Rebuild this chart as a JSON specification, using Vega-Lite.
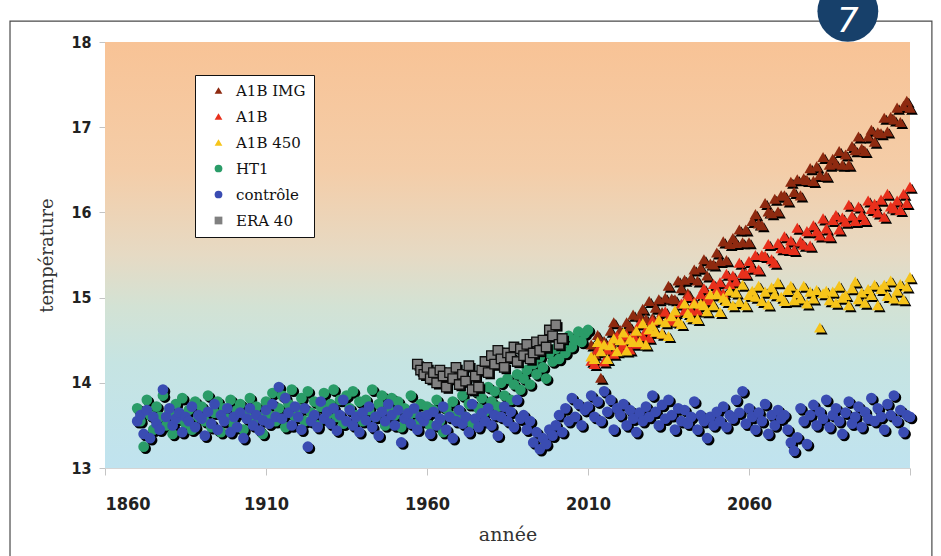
{
"$schema":"https://vega.github.io/schema/vega-lite/v6.json",
"width":805,"height":426,"autosize":{"type":"none"},
"padding":{"left":105,"top":42,"right":31,"bottom":88},
"background":"white",
"datasets":{"pts":[
{"series":"A1B IMG","year":2011,"temp":14.45},{"series":"A1B IMG","year":2012,"temp":14.34},{"series":"A1B IMG","year":2013,"temp":14.56},{"series":"A1B IMG","year":2014,"temp":14.06},{"series":"A1B IMG","year":2015,"temp":14.49},{"series":"A1B IMG","year":2016,"temp":14.39},{"series":"A1B IMG","year":2017,"temp":14.61},{"series":"A1B IMG","year":2018,"temp":14.71},{"series":"A1B IMG","year":2019,"temp":14.52},{"series":"A1B IMG","year":2020,"temp":14.62},
{"series":"A1B IMG","year":2021,"temp":14.53},{"series":"A1B IMG","year":2022,"temp":14.71},{"series":"A1B IMG","year":2023,"temp":14.66},{"series":"A1B IMG","year":2024,"temp":14.80},{"series":"A1B IMG","year":2025,"temp":14.59},{"series":"A1B IMG","year":2026,"temp":14.79},{"series":"A1B IMG","year":2027,"temp":14.87},{"series":"A1B IMG","year":2028,"temp":14.75},{"series":"A1B IMG","year":2029,"temp":14.96},{"series":"A1B IMG","year":2030,"temp":14.76},
{"series":"A1B IMG","year":2031,"temp":14.88},{"series":"A1B IMG","year":2032,"temp":14.98},{"series":"A1B IMG","year":2033,"temp":14.83},{"series":"A1B IMG","year":2034,"temp":15.00},{"series":"A1B IMG","year":2035,"temp":15.14},{"series":"A1B IMG","year":2036,"temp":14.99},{"series":"A1B IMG","year":2037,"temp":14.98},{"series":"A1B IMG","year":2038,"temp":15.20},{"series":"A1B IMG","year":2039,"temp":15.11},{"series":"A1B IMG","year":2040,"temp":15.21},
{"series":"A1B IMG","year":2041,"temp":15.05},{"series":"A1B IMG","year":2042,"temp":15.23},{"series":"A1B IMG","year":2043,"temp":15.33},{"series":"A1B IMG","year":2044,"temp":15.20},{"series":"A1B IMG","year":2045,"temp":15.35},{"series":"A1B IMG","year":2046,"temp":15.45},{"series":"A1B IMG","year":2047,"temp":15.26},{"series":"A1B IMG","year":2048,"temp":15.40},{"series":"A1B IMG","year":2049,"temp":15.39},{"series":"A1B IMG","year":2050,"temp":15.53},
{"series":"A1B IMG","year":2051,"temp":15.43},{"series":"A1B IMG","year":2052,"temp":15.66},{"series":"A1B IMG","year":2053,"temp":15.44},{"series":"A1B IMG","year":2054,"temp":15.63},{"series":"A1B IMG","year":2055,"temp":15.70},{"series":"A1B IMG","year":2056,"temp":15.64},{"series":"A1B IMG","year":2057,"temp":15.80},{"series":"A1B IMG","year":2058,"temp":15.65},{"series":"A1B IMG","year":2059,"temp":15.80},{"series":"A1B IMG","year":2060,"temp":15.65},
{"series":"A1B IMG","year":2061,"temp":15.90},{"series":"A1B IMG","year":2062,"temp":15.98},{"series":"A1B IMG","year":2063,"temp":15.87},{"series":"A1B IMG","year":2064,"temp":15.85},{"series":"A1B IMG","year":2065,"temp":16.11},{"series":"A1B IMG","year":2066,"temp":16.01},{"series":"A1B IMG","year":2067,"temp":15.99},{"series":"A1B IMG","year":2068,"temp":16.16},{"series":"A1B IMG","year":2069,"temp":16.01},{"series":"A1B IMG","year":2070,"temp":16.20},
{"series":"A1B IMG","year":2071,"temp":16.20},{"series":"A1B IMG","year":2072,"temp":16.14},{"series":"A1B IMG","year":2073,"temp":16.36},{"series":"A1B IMG","year":2074,"temp":16.24},{"series":"A1B IMG","year":2075,"temp":16.39},{"series":"A1B IMG","year":2076,"temp":16.20},{"series":"A1B IMG","year":2077,"temp":16.40},{"series":"A1B IMG","year":2078,"temp":16.38},{"series":"A1B IMG","year":2079,"temp":16.52},{"series":"A1B IMG","year":2080,"temp":16.37},
{"series":"A1B IMG","year":2081,"temp":16.54},{"series":"A1B IMG","year":2082,"temp":16.44},{"series":"A1B IMG","year":2083,"temp":16.65},{"series":"A1B IMG","year":2084,"temp":16.43},{"series":"A1B IMG","year":2085,"temp":16.56},{"series":"A1B IMG","year":2086,"temp":16.63},{"series":"A1B IMG","year":2087,"temp":16.57},{"series":"A1B IMG","year":2088,"temp":16.72},{"series":"A1B IMG","year":2089,"temp":16.56},{"series":"A1B IMG","year":2090,"temp":16.68},
{"series":"A1B IMG","year":2091,"temp":16.56},{"series":"A1B IMG","year":2092,"temp":16.78},{"series":"A1B IMG","year":2093,"temp":16.73},{"series":"A1B IMG","year":2094,"temp":16.89},{"series":"A1B IMG","year":2095,"temp":16.75},{"series":"A1B IMG","year":2096,"temp":16.72},{"series":"A1B IMG","year":2097,"temp":16.89},{"series":"A1B IMG","year":2098,"temp":16.97},{"series":"A1B IMG","year":2099,"temp":16.83},{"series":"A1B IMG","year":2100,"temp":16.94},
{"series":"A1B IMG","year":2101,"temp":16.93},{"series":"A1B IMG","year":2102,"temp":17.11},{"series":"A1B IMG","year":2103,"temp":16.95},{"series":"A1B IMG","year":2104,"temp":17.12},{"series":"A1B IMG","year":2105,"temp":17.09},{"series":"A1B IMG","year":2106,"temp":17.23},{"series":"A1B IMG","year":2107,"temp":17.06},{"series":"A1B IMG","year":2108,"temp":17.25},{"series":"A1B IMG","year":2109,"temp":17.31},{"series":"A1B IMG","year":2110,"temp":17.23},
{"series":"A1B","year":2011,"temp":14.26},{"series":"A1B","year":2012,"temp":14.22},{"series":"A1B","year":2013,"temp":14.39},{"series":"A1B","year":2014,"temp":14.45},{"series":"A1B","year":2015,"temp":14.25},{"series":"A1B","year":2016,"temp":14.39},{"series":"A1B","year":2017,"temp":14.47},{"series":"A1B","year":2018,"temp":14.34},{"series":"A1B","year":2019,"temp":14.55},{"series":"A1B","year":2020,"temp":14.40},
{"series":"A1B","year":2021,"temp":14.45},{"series":"A1B","year":2022,"temp":14.56},{"series":"A1B","year":2023,"temp":14.39},{"series":"A1B","year":2024,"temp":14.56},{"series":"A1B","year":2025,"temp":14.46},{"series":"A1B","year":2026,"temp":14.70},{"series":"A1B","year":2027,"temp":14.55},{"series":"A1B","year":2028,"temp":14.62},{"series":"A1B","year":2029,"temp":14.53},{"series":"A1B","year":2030,"temp":14.73},
{"series":"A1B","year":2031,"temp":14.60},{"series":"A1B","year":2032,"temp":14.75},{"series":"A1B","year":2033,"temp":14.58},{"series":"A1B","year":2034,"temp":14.84},{"series":"A1B","year":2035,"temp":14.76},{"series":"A1B","year":2036,"temp":14.73},{"series":"A1B","year":2037,"temp":14.83},{"series":"A1B","year":2038,"temp":14.72},{"series":"A1B","year":2039,"temp":14.93},{"series":"A1B","year":2040,"temp":14.85},
{"series":"A1B","year":2041,"temp":15.02},{"series":"A1B","year":2042,"temp":14.85},{"series":"A1B","year":2043,"temp":14.95},{"series":"A1B","year":2044,"temp":14.85},{"series":"A1B","year":2045,"temp":15.04},{"series":"A1B","year":2046,"temp":15.11},{"series":"A1B","year":2047,"temp":15.00},{"series":"A1B","year":2048,"temp":14.97},{"series":"A1B","year":2049,"temp":15.16},{"series":"A1B","year":2050,"temp":15.10},
{"series":"A1B","year":2051,"temp":15.18},{"series":"A1B","year":2052,"temp":15.05},{"series":"A1B","year":2053,"temp":15.28},{"series":"A1B","year":2054,"temp":15.16},{"series":"A1B","year":2055,"temp":15.26},{"series":"A1B","year":2056,"temp":15.19},{"series":"A1B","year":2057,"temp":15.41},{"series":"A1B","year":2058,"temp":15.29},{"series":"A1B","year":2059,"temp":15.28},{"series":"A1B","year":2060,"temp":15.43},
{"series":"A1B","year":2061,"temp":15.35},{"series":"A1B","year":2062,"temp":15.50},{"series":"A1B","year":2063,"temp":15.33},{"series":"A1B","year":2064,"temp":15.50},{"series":"A1B","year":2065,"temp":15.49},{"series":"A1B","year":2066,"temp":15.63},{"series":"A1B","year":2067,"temp":15.45},{"series":"A1B","year":2068,"temp":15.41},{"series":"A1B","year":2069,"temp":15.64},{"series":"A1B","year":2070,"temp":15.58},
{"series":"A1B","year":2071,"temp":15.72},{"series":"A1B","year":2072,"temp":15.57},{"series":"A1B","year":2073,"temp":15.67},{"series":"A1B","year":2074,"temp":15.56},{"series":"A1B","year":2075,"temp":15.82},{"series":"A1B","year":2076,"temp":15.66},{"series":"A1B","year":2077,"temp":15.62},{"series":"A1B","year":2078,"temp":15.78},{"series":"A1B","year":2079,"temp":15.61},{"series":"A1B","year":2080,"temp":15.85},
{"series":"A1B","year":2081,"temp":15.78},{"series":"A1B","year":2082,"temp":15.73},{"series":"A1B","year":2083,"temp":15.93},{"series":"A1B","year":2084,"temp":15.81},{"series":"A1B","year":2085,"temp":15.72},{"series":"A1B","year":2086,"temp":15.91},{"series":"A1B","year":2087,"temp":15.97},{"series":"A1B","year":2088,"temp":15.80},{"series":"A1B","year":2089,"temp":15.94},{"series":"A1B","year":2090,"temp":15.89},
{"series":"A1B","year":2091,"temp":16.09},{"series":"A1B","year":2092,"temp":15.96},{"series":"A1B","year":2093,"temp":15.90},{"series":"A1B","year":2094,"temp":16.07},{"series":"A1B","year":2095,"temp":15.97},{"series":"A1B","year":2096,"temp":15.91},{"series":"A1B","year":2097,"temp":16.14},{"series":"A1B","year":2098,"temp":16.04},{"series":"A1B","year":2099,"temp":16.10},{"series":"A1B","year":2100,"temp":16.00},
{"series":"A1B","year":2101,"temp":16.15},{"series":"A1B","year":2102,"temp":15.95},{"series":"A1B","year":2103,"temp":16.22},{"series":"A1B","year":2104,"temp":16.07},{"series":"A1B","year":2105,"temp":16.05},{"series":"A1B","year":2106,"temp":16.14},{"series":"A1B","year":2107,"temp":16.03},{"series":"A1B","year":2108,"temp":16.22},{"series":"A1B","year":2109,"temp":16.11},{"series":"A1B","year":2110,"temp":16.30},
{"series":"A1B 450","year":2011,"temp":14.31},{"series":"A1B 450","year":2012,"temp":14.28},{"series":"A1B 450","year":2013,"temp":14.48},{"series":"A1B 450","year":2014,"temp":14.37},{"series":"A1B 450","year":2015,"temp":14.45},{"series":"A1B 450","year":2016,"temp":14.28},{"series":"A1B 450","year":2017,"temp":14.44},{"series":"A1B 450","year":2018,"temp":14.52},{"series":"A1B 450","year":2019,"temp":14.37},{"series":"A1B 450","year":2020,"temp":14.50},
{"series":"A1B 450","year":2021,"temp":14.59},{"series":"A1B 450","year":2022,"temp":14.38},{"series":"A1B 450","year":2023,"temp":14.51},{"series":"A1B 450","year":2024,"temp":14.48},{"series":"A1B 450","year":2025,"temp":14.61},{"series":"A1B 450","year":2026,"temp":14.48},{"series":"A1B 450","year":2027,"temp":14.70},{"series":"A1B 450","year":2028,"temp":14.45},{"series":"A1B 450","year":2029,"temp":14.63},{"series":"A1B 450","year":2030,"temp":14.67},
{"series":"A1B 450","year":2031,"temp":14.60},{"series":"A1B 450","year":2032,"temp":14.74},{"series":"A1B 450","year":2033,"temp":14.58},{"series":"A1B 450","year":2034,"temp":14.71},{"series":"A1B 450","year":2035,"temp":14.55},{"series":"A1B 450","year":2036,"temp":14.78},{"series":"A1B 450","year":2037,"temp":14.85},{"series":"A1B 450","year":2038,"temp":14.72},{"series":"A1B 450","year":2039,"temp":14.69},{"series":"A1B 450","year":2040,"temp":14.93},
{"series":"A1B 450","year":2041,"temp":14.82},{"series":"A1B 450","year":2042,"temp":14.77},{"series":"A1B 450","year":2043,"temp":14.93},{"series":"A1B 450","year":2044,"temp":14.75},{"series":"A1B 450","year":2045,"temp":14.93},{"series":"A1B 450","year":2046,"temp":14.91},{"series":"A1B 450","year":2047,"temp":14.84},{"series":"A1B 450","year":2048,"temp":15.04},{"series":"A1B 450","year":2049,"temp":14.91},{"series":"A1B 450","year":2050,"temp":15.04},
{"series":"A1B 450","year":2051,"temp":14.83},{"series":"A1B 450","year":2052,"temp":15.00},{"series":"A1B 450","year":2053,"temp":14.96},{"series":"A1B 450","year":2054,"temp":15.08},{"series":"A1B 450","year":2055,"temp":14.91},{"series":"A1B 450","year":2056,"temp":15.06},{"series":"A1B 450","year":2057,"temp":14.95},{"series":"A1B 450","year":2058,"temp":15.15},{"series":"A1B 450","year":2059,"temp":14.91},{"series":"A1B 450","year":2060,"temp":15.03},
{"series":"A1B 450","year":2061,"temp":15.08},{"series":"A1B 450","year":2062,"temp":15.01},{"series":"A1B 450","year":2063,"temp":15.14},{"series":"A1B 450","year":2064,"temp":14.96},{"series":"A1B 450","year":2065,"temp":15.07},{"series":"A1B 450","year":2066,"temp":14.92},{"series":"A1B 450","year":2067,"temp":15.12},{"series":"A1B 450","year":2068,"temp":15.04},{"series":"A1B 450","year":2069,"temp":15.18},{"series":"A1B 450","year":2070,"temp":15.01},
{"series":"A1B 450","year":2071,"temp":14.96},{"series":"A1B 450","year":2072,"temp":15.09},{"series":"A1B 450","year":2073,"temp":15.14},{"series":"A1B 450","year":2074,"temp":14.97},{"series":"A1B 450","year":2075,"temp":15.05},{"series":"A1B 450","year":2076,"temp":14.99},{"series":"A1B 450","year":2077,"temp":15.14},{"series":"A1B 450","year":2078,"temp":14.93},{"series":"A1B 450","year":2079,"temp":15.07},{"series":"A1B 450","year":2080,"temp":14.99},
{"series":"A1B 450","year":2081,"temp":15.09},{"series":"A1B 450","year":2082,"temp":14.65},{"series":"A1B 450","year":2083,"temp":15.05},{"series":"A1B 450","year":2084,"temp":15.08},{"series":"A1B 450","year":2085,"temp":14.97},{"series":"A1B 450","year":2086,"temp":15.07},{"series":"A1B 450","year":2087,"temp":14.94},{"series":"A1B 450","year":2088,"temp":15.14},{"series":"A1B 450","year":2089,"temp":15.00},{"series":"A1B 450","year":2090,"temp":15.03},
{"series":"A1B 450","year":2091,"temp":14.91},{"series":"A1B 450","year":2092,"temp":15.11},{"series":"A1B 450","year":2093,"temp":15.19},{"series":"A1B 450","year":2094,"temp":14.98},{"series":"A1B 450","year":2095,"temp":15.06},{"series":"A1B 450","year":2096,"temp":14.94},{"series":"A1B 450","year":2097,"temp":15.10},{"series":"A1B 450","year":2098,"temp":15.03},{"series":"A1B 450","year":2099,"temp":15.15},{"series":"A1B 450","year":2100,"temp":14.91},
{"series":"A1B 450","year":2101,"temp":15.10},{"series":"A1B 450","year":2102,"temp":15.15},{"series":"A1B 450","year":2103,"temp":15.02},{"series":"A1B 450","year":2104,"temp":15.20},{"series":"A1B 450","year":2105,"temp":14.99},{"series":"A1B 450","year":2106,"temp":15.08},{"series":"A1B 450","year":2107,"temp":15.16},{"series":"A1B 450","year":2108,"temp":14.98},{"series":"A1B 450","year":2109,"temp":15.13},{"series":"A1B 450","year":2110,"temp":15.24},
{"series":"HT1","year":1870,"temp":13.70},{"series":"HT1","year":1871,"temp":13.55},{"series":"HT1","year":1872,"temp":13.25},{"series":"HT1","year":1873,"temp":13.80},{"series":"HT1","year":1874,"temp":13.62},{"series":"HT1","year":1875,"temp":13.45},{"series":"HT1","year":1876,"temp":13.72},{"series":"HT1","year":1877,"temp":13.60},{"series":"HT1","year":1878,"temp":13.85},{"series":"HT1","year":1879,"temp":13.50},
{"series":"HT1","year":1880,"temp":13.66},{"series":"HT1","year":1881,"temp":13.40},{"series":"HT1","year":1882,"temp":13.75},{"series":"HT1","year":1883,"temp":13.58},{"series":"HT1","year":1884,"temp":13.82},{"series":"HT1","year":1885,"temp":13.52},{"series":"HT1","year":1886,"temp":13.68},{"series":"HT1","year":1887,"temp":13.45},{"series":"HT1","year":1888,"temp":13.78},{"series":"HT1","year":1889,"temp":13.60},
{"series":"HT1","year":1890,"temp":13.72},{"series":"HT1","year":1891,"temp":13.55},{"series":"HT1","year":1892,"temp":13.85},{"series":"HT1","year":1893,"temp":13.48},{"series":"HT1","year":1894,"temp":13.65},{"series":"HT1","year":1895,"temp":13.78},{"series":"HT1","year":1896,"temp":13.42},{"series":"HT1","year":1897,"temp":13.70},{"series":"HT1","year":1898,"temp":13.58},{"series":"HT1","year":1899,"temp":13.80},
{"series":"HT1","year":1900,"temp":13.50},{"series":"HT1","year":1901,"temp":13.68},{"series":"HT1","year":1902,"temp":13.75},{"series":"HT1","year":1903,"temp":13.45},{"series":"HT1","year":1904,"temp":13.62},{"series":"HT1","year":1905,"temp":13.82},{"series":"HT1","year":1906,"temp":13.55},{"series":"HT1","year":1907,"temp":13.72},{"series":"HT1","year":1908,"temp":13.60},{"series":"HT1","year":1909,"temp":13.40},
{"series":"HT1","year":1910,"temp":13.78},{"series":"HT1","year":1911,"temp":13.62},{"series":"HT1","year":1912,"temp":13.88},{"series":"HT1","year":1913,"temp":13.55},{"series":"HT1","year":1914,"temp":13.70},{"series":"HT1","year":1915,"temp":13.85},{"series":"HT1","year":1916,"temp":13.48},{"series":"HT1","year":1917,"temp":13.75},{"series":"HT1","year":1918,"temp":13.92},{"series":"HT1","year":1919,"temp":13.60},
{"series":"HT1","year":1920,"temp":13.70},{"series":"HT1","year":1921,"temp":13.82},{"series":"HT1","year":1922,"temp":13.55},{"series":"HT1","year":1923,"temp":13.90},{"series":"HT1","year":1924,"temp":13.65},{"series":"HT1","year":1925,"temp":13.78},{"series":"HT1","year":1926,"temp":13.50},{"series":"HT1","year":1927,"temp":13.72},{"series":"HT1","year":1928,"temp":13.88},{"series":"HT1","year":1929,"temp":13.62},
{"series":"HT1","year":1930,"temp":13.75},{"series":"HT1","year":1931,"temp":13.92},{"series":"HT1","year":1932,"temp":13.60},{"series":"HT1","year":1933,"temp":13.80},{"series":"HT1","year":1934,"temp":13.52},{"series":"HT1","year":1935,"temp":13.85},{"series":"HT1","year":1936,"temp":13.70},{"series":"HT1","year":1937,"temp":13.90},{"series":"HT1","year":1938,"temp":13.62},{"series":"HT1","year":1939,"temp":13.78},
{"series":"HT1","year":1940,"temp":13.55},{"series":"HT1","year":1941,"temp":13.80},{"series":"HT1","year":1942,"temp":13.68},{"series":"HT1","year":1943,"temp":13.92},{"series":"HT1","year":1944,"temp":13.60},{"series":"HT1","year":1945,"temp":13.75},{"series":"HT1","year":1946,"temp":13.85},{"series":"HT1","year":1947,"temp":13.50},{"series":"HT1","year":1948,"temp":13.70},{"series":"HT1","year":1949,"temp":13.82},
{"series":"HT1","year":1950,"temp":13.62},{"series":"HT1","year":1951,"temp":13.78},{"series":"HT1","year":1952,"temp":13.48},{"series":"HT1","year":1953,"temp":13.70},{"series":"HT1","year":1954,"temp":13.58},{"series":"HT1","year":1955,"temp":13.85},{"series":"HT1","year":1956,"temp":13.65},{"series":"HT1","year":1957,"temp":13.52},{"series":"HT1","year":1958,"temp":13.75},{"series":"HT1","year":1959,"temp":13.60},
{"series":"HT1","year":1960,"temp":13.72},{"series":"HT1","year":1961,"temp":13.50},{"series":"HT1","year":1962,"temp":13.68},{"series":"HT1","year":1963,"temp":13.80},{"series":"HT1","year":1964,"temp":13.55},{"series":"HT1","year":1965,"temp":13.42},{"series":"HT1","year":1966,"temp":13.70},{"series":"HT1","year":1967,"temp":13.62},{"series":"HT1","year":1968,"temp":13.78},{"series":"HT1","year":1969,"temp":13.58},
{"series":"HT1","year":1970,"temp":13.65},{"series":"HT1","year":1971,"temp":13.85},{"series":"HT1","year":1972,"temp":13.60},{"series":"HT1","year":1973,"temp":13.75},{"series":"HT1","year":1974,"temp":13.52},{"series":"HT1","year":1975,"temp":13.90},{"series":"HT1","year":1976,"temp":13.70},{"series":"HT1","year":1977,"temp":13.82},{"series":"HT1","year":1978,"temp":13.66},{"series":"HT1","year":1979,"temp":13.95},
{"series":"HT1","year":1980,"temp":13.78},{"series":"HT1","year":1981,"temp":13.90},{"series":"HT1","year":1982,"temp":13.72},{"series":"HT1","year":1983,"temp":14.00},{"series":"HT1","year":1984,"temp":13.85},{"series":"HT1","year":1985,"temp":14.05},{"series":"HT1","year":1986,"temp":13.80},{"series":"HT1","year":1987,"temp":13.98},{"series":"HT1","year":1988,"temp":14.10},{"series":"HT1","year":1989,"temp":13.92},
{"series":"HT1","year":1990,"temp":14.05},{"series":"HT1","year":1991,"temp":14.15},{"series":"HT1","year":1992,"temp":13.98},{"series":"HT1","year":1993,"temp":14.22},{"series":"HT1","year":1994,"temp":14.10},{"series":"HT1","year":1995,"temp":14.30},{"series":"HT1","year":1996,"temp":14.18},{"series":"HT1","year":1997,"temp":14.05},{"series":"HT1","year":1998,"temp":14.35},{"series":"HT1","year":1999,"temp":14.25},
{"series":"HT1","year":2000,"temp":14.40},{"series":"HT1","year":2001,"temp":14.28},{"series":"HT1","year":2002,"temp":14.45},{"series":"HT1","year":2003,"temp":14.35},{"series":"HT1","year":2004,"temp":14.55},{"series":"HT1","year":2005,"temp":14.42},{"series":"HT1","year":2006,"temp":14.50},{"series":"HT1","year":2007,"temp":14.60},{"series":"HT1","year":2008,"temp":14.48},{"series":"HT1","year":2009,"temp":14.58},{"series":"HT1","year":2010,"temp":14.62},
{"series":"contrôle","year":1870,"temp":13.55},{"series":"contrôle","year":1871,"temp":13.62},{"series":"contrôle","year":1872,"temp":13.40},{"series":"contrôle","year":1873,"temp":13.68},{"series":"contrôle","year":1874,"temp":13.35},{"series":"contrôle","year":1875,"temp":13.60},{"series":"contrôle","year":1876,"temp":13.52},{"series":"contrôle","year":1877,"temp":13.45},{"series":"contrôle","year":1878,"temp":13.92},{"series":"contrôle","year":1879,"temp":13.60},
{"series":"contrôle","year":1880,"temp":13.70},{"series":"contrôle","year":1881,"temp":13.50},{"series":"contrôle","year":1882,"temp":13.58},{"series":"contrôle","year":1883,"temp":13.65},{"series":"contrôle","year":1884,"temp":13.42},{"series":"contrôle","year":1885,"temp":13.60},{"series":"contrôle","year":1886,"temp":13.55},{"series":"contrôle","year":1887,"temp":13.72},{"series":"contrôle","year":1888,"temp":13.48},{"series":"contrôle","year":1889,"temp":13.62},
{"series":"contrôle","year":1890,"temp":13.58},{"series":"contrôle","year":1891,"temp":13.38},{"series":"contrôle","year":1892,"temp":13.66},{"series":"contrôle","year":1893,"temp":13.52},{"series":"contrôle","year":1894,"temp":13.75},{"series":"contrôle","year":1895,"temp":13.45},{"series":"contrôle","year":1896,"temp":13.62},{"series":"contrôle","year":1897,"temp":13.55},{"series":"contrôle","year":1898,"temp":13.70},{"series":"contrôle","year":1899,"temp":13.42},
{"series":"contrôle","year":1900,"temp":13.60},{"series":"contrôle","year":1901,"temp":13.48},{"series":"contrôle","year":1902,"temp":13.65},{"series":"contrôle","year":1903,"temp":13.35},{"series":"contrôle","year":1904,"temp":13.58},{"series":"contrôle","year":1905,"temp":13.70},{"series":"contrôle","year":1906,"temp":13.50},{"series":"contrôle","year":1907,"temp":13.62},{"series":"contrôle","year":1908,"temp":13.44},{"series":"contrôle","year":1909,"temp":13.56},
{"series":"contrôle","year":1910,"temp":13.68},{"series":"contrôle","year":1911,"temp":13.52},{"series":"contrôle","year":1912,"temp":13.75},{"series":"contrôle","year":1913,"temp":13.60},{"series":"contrôle","year":1914,"temp":13.95},{"series":"contrôle","year":1915,"temp":13.58},{"series":"contrôle","year":1916,"temp":13.82},{"series":"contrôle","year":1917,"temp":13.65},{"series":"contrôle","year":1918,"temp":13.50},{"series":"contrôle","year":1919,"temp":13.72},
{"series":"contrôle","year":1920,"temp":13.60},{"series":"contrôle","year":1921,"temp":13.45},{"series":"contrôle","year":1922,"temp":13.70},{"series":"contrôle","year":1923,"temp":13.25},{"series":"contrôle","year":1924,"temp":13.55},{"series":"contrôle","year":1925,"temp":13.62},{"series":"contrôle","year":1926,"temp":13.48},{"series":"contrôle","year":1927,"temp":13.78},{"series":"contrôle","year":1928,"temp":13.58},{"series":"contrôle","year":1929,"temp":13.66},
{"series":"contrôle","year":1930,"temp":13.52},{"series":"contrôle","year":1931,"temp":13.70},{"series":"contrôle","year":1932,"temp":13.44},{"series":"contrôle","year":1933,"temp":13.62},{"series":"contrôle","year":1934,"temp":13.80},{"series":"contrôle","year":1935,"temp":13.55},{"series":"contrôle","year":1936,"temp":13.68},{"series":"contrôle","year":1937,"temp":13.50},{"series":"contrôle","year":1938,"temp":13.60},{"series":"contrôle","year":1939,"temp":13.42},
{"series":"contrôle","year":1940,"temp":13.65},{"series":"contrôle","year":1941,"temp":13.56},{"series":"contrôle","year":1942,"temp":13.72},{"series":"contrôle","year":1943,"temp":13.48},{"series":"contrôle","year":1944,"temp":13.60},{"series":"contrôle","year":1945,"temp":13.38},{"series":"contrôle","year":1946,"temp":13.66},{"series":"contrôle","year":1947,"temp":13.55},{"series":"contrôle","year":1948,"temp":13.75},{"series":"contrôle","year":1949,"temp":13.62},
{"series":"contrôle","year":1950,"temp":13.50},{"series":"contrôle","year":1951,"temp":13.68},{"series":"contrôle","year":1952,"temp":13.30},{"series":"contrôle","year":1953,"temp":13.58},{"series":"contrôle","year":1954,"temp":13.64},{"series":"contrôle","year":1955,"temp":13.52},{"series":"contrôle","year":1956,"temp":13.70},{"series":"contrôle","year":1957,"temp":13.45},{"series":"contrôle","year":1958,"temp":13.60},{"series":"contrôle","year":1959,"temp":13.55},
{"series":"contrôle","year":1960,"temp":13.62},{"series":"contrôle","year":1961,"temp":13.40},{"series":"contrôle","year":1962,"temp":13.66},{"series":"contrôle","year":1963,"temp":13.50},{"series":"contrôle","year":1964,"temp":13.58},{"series":"contrôle","year":1965,"temp":13.72},{"series":"contrôle","year":1966,"temp":13.45},{"series":"contrôle","year":1967,"temp":13.60},{"series":"contrôle","year":1968,"temp":13.35},{"series":"contrôle","year":1969,"temp":13.55},
{"series":"contrôle","year":1970,"temp":13.68},{"series":"contrôle","year":1971,"temp":13.52},{"series":"contrôle","year":1972,"temp":13.60},{"series":"contrôle","year":1973,"temp":13.42},{"series":"contrôle","year":1974,"temp":13.75},{"series":"contrôle","year":1975,"temp":13.58},{"series":"contrôle","year":1976,"temp":13.48},{"series":"contrôle","year":1977,"temp":13.64},{"series":"contrôle","year":1978,"temp":13.55},{"series":"contrôle","year":1979,"temp":13.70},
{"series":"contrôle","year":1980,"temp":13.50},{"series":"contrôle","year":1981,"temp":13.62},{"series":"contrôle","year":1982,"temp":13.38},{"series":"contrôle","year":1983,"temp":13.60},{"series":"contrôle","year":1984,"temp":13.72},{"series":"contrôle","year":1985,"temp":13.55},{"series":"contrôle","year":1986,"temp":13.66},{"series":"contrôle","year":1987,"temp":13.48},{"series":"contrôle","year":1988,"temp":13.80},{"series":"contrôle","year":1989,"temp":13.58},
{"series":"contrôle","year":1990,"temp":13.62},{"series":"contrôle","year":1991,"temp":13.45},{"series":"contrôle","year":1992,"temp":13.55},{"series":"contrôle","year":1993,"temp":13.30},{"series":"contrôle","year":1994,"temp":13.42},{"series":"contrôle","year":1995,"temp":13.22},{"series":"contrôle","year":1996,"temp":13.35},{"series":"contrôle","year":1997,"temp":13.28},{"series":"contrôle","year":1998,"temp":13.45},{"series":"contrôle","year":1999,"temp":13.38},
{"series":"contrôle","year":2000,"temp":13.50},{"series":"contrôle","year":2001,"temp":13.62},{"series":"contrôle","year":2002,"temp":13.42},{"series":"contrôle","year":2003,"temp":13.70},{"series":"contrôle","year":2004,"temp":13.55},{"series":"contrôle","year":2005,"temp":13.82},{"series":"contrôle","year":2006,"temp":13.60},{"series":"contrôle","year":2007,"temp":13.75},{"series":"contrôle","year":2008,"temp":13.50},{"series":"contrôle","year":2009,"temp":13.68},
{"series":"contrôle","year":2010,"temp":13.72},{"series":"contrôle","year":2011,"temp":13.85},{"series":"contrôle","year":2012,"temp":13.60},{"series":"contrôle","year":2013,"temp":13.78},{"series":"contrôle","year":2014,"temp":13.55},{"series":"contrôle","year":2015,"temp":13.90},{"series":"contrôle","year":2016,"temp":13.66},{"series":"contrôle","year":2017,"temp":13.80},{"series":"contrôle","year":2018,"temp":13.45},{"series":"contrôle","year":2019,"temp":13.70},
{"series":"contrôle","year":2020,"temp":13.62},{"series":"contrôle","year":2021,"temp":13.75},{"series":"contrôle","year":2022,"temp":13.50},{"series":"contrôle","year":2023,"temp":13.68},{"series":"contrôle","year":2024,"temp":13.58},{"series":"contrôle","year":2025,"temp":13.42},{"series":"contrôle","year":2026,"temp":13.65},{"series":"contrôle","year":2027,"temp":13.55},{"series":"contrôle","year":2028,"temp":13.72},{"series":"contrôle","year":2029,"temp":13.60},
{"series":"contrôle","year":2030,"temp":13.85},{"series":"contrôle","year":2031,"temp":13.66},{"series":"contrôle","year":2032,"temp":13.50},{"series":"contrôle","year":2033,"temp":13.74},{"series":"contrôle","year":2034,"temp":13.58},{"series":"contrôle","year":2035,"temp":13.80},{"series":"contrôle","year":2036,"temp":13.62},{"series":"contrôle","year":2037,"temp":13.45},{"series":"contrôle","year":2038,"temp":13.70},{"series":"contrôle","year":2039,"temp":13.55},
{"series":"contrôle","year":2040,"temp":13.68},{"series":"contrôle","year":2041,"temp":13.52},{"series":"contrôle","year":2042,"temp":13.60},{"series":"contrôle","year":2043,"temp":13.78},{"series":"contrôle","year":2044,"temp":13.45},{"series":"contrôle","year":2045,"temp":13.62},{"series":"contrôle","year":2046,"temp":13.55},{"series":"contrôle","year":2047,"temp":13.35},{"series":"contrôle","year":2048,"temp":13.60},{"series":"contrôle","year":2049,"temp":13.50},
{"series":"contrôle","year":2050,"temp":13.66},{"series":"contrôle","year":2051,"temp":13.55},{"series":"contrôle","year":2052,"temp":13.72},{"series":"contrôle","year":2053,"temp":13.48},{"series":"contrôle","year":2054,"temp":13.62},{"series":"contrôle","year":2055,"temp":13.58},{"series":"contrôle","year":2056,"temp":13.80},{"series":"contrôle","year":2057,"temp":13.65},{"series":"contrôle","year":2058,"temp":13.90},{"series":"contrôle","year":2059,"temp":13.52},
{"series":"contrôle","year":2060,"temp":13.70},{"series":"contrôle","year":2061,"temp":13.60},{"series":"contrôle","year":2062,"temp":13.45},{"series":"contrôle","year":2063,"temp":13.65},{"series":"contrôle","year":2064,"temp":13.55},{"series":"contrôle","year":2065,"temp":13.75},{"series":"contrôle","year":2066,"temp":13.40},{"series":"contrôle","year":2067,"temp":13.62},{"series":"contrôle","year":2068,"temp":13.50},{"series":"contrôle","year":2069,"temp":13.68},
{"series":"contrôle","year":2070,"temp":13.58},{"series":"contrôle","year":2071,"temp":13.62},{"series":"contrôle","year":2072,"temp":13.45},{"series":"contrôle","year":2073,"temp":13.30},{"series":"contrôle","year":2074,"temp":13.20},{"series":"contrôle","year":2075,"temp":13.36},{"series":"contrôle","year":2076,"temp":13.70},{"series":"contrôle","year":2077,"temp":13.55},{"series":"contrôle","year":2078,"temp":13.28},{"series":"contrôle","year":2079,"temp":13.62},
{"series":"contrôle","year":2080,"temp":13.74},{"series":"contrôle","year":2081,"temp":13.50},{"series":"contrôle","year":2082,"temp":13.66},{"series":"contrôle","year":2083,"temp":13.58},{"series":"contrôle","year":2084,"temp":13.80},{"series":"contrôle","year":2085,"temp":13.48},{"series":"contrôle","year":2086,"temp":13.62},{"series":"contrôle","year":2087,"temp":13.70},{"series":"contrôle","year":2088,"temp":13.55},{"series":"contrôle","year":2089,"temp":13.40},
{"series":"contrôle","year":2090,"temp":13.65},{"series":"contrôle","year":2091,"temp":13.78},{"series":"contrôle","year":2092,"temp":13.52},{"series":"contrôle","year":2093,"temp":13.60},{"series":"contrôle","year":2094,"temp":13.72},{"series":"contrôle","year":2095,"temp":13.48},{"series":"contrôle","year":2096,"temp":13.66},{"series":"contrôle","year":2097,"temp":13.58},{"series":"contrôle","year":2098,"temp":13.82},{"series":"contrôle","year":2099,"temp":13.55},
{"series":"contrôle","year":2100,"temp":13.70},{"series":"contrôle","year":2101,"temp":13.60},{"series":"contrôle","year":2102,"temp":13.45},{"series":"contrôle","year":2103,"temp":13.75},{"series":"contrôle","year":2104,"temp":13.62},{"series":"contrôle","year":2105,"temp":13.85},{"series":"contrôle","year":2106,"temp":13.55},{"series":"contrôle","year":2107,"temp":13.68},{"series":"contrôle","year":2108,"temp":13.42},{"series":"contrôle","year":2109,"temp":13.62},{"series":"contrôle","year":2110,"temp":13.60},
{"series":"ERA 40","year":1957,"temp":14.22},{"series":"ERA 40","year":1958,"temp":14.15},{"series":"ERA 40","year":1959,"temp":14.10},{"series":"ERA 40","year":1960,"temp":14.18},{"series":"ERA 40","year":1961,"temp":14.05},{"series":"ERA 40","year":1962,"temp":14.12},{"series":"ERA 40","year":1963,"temp":14.00},{"series":"ERA 40","year":1964,"temp":14.15},{"series":"ERA 40","year":1965,"temp":14.08},{"series":"ERA 40","year":1966,"temp":13.95},
{"series":"ERA 40","year":1967,"temp":14.12},{"series":"ERA 40","year":1968,"temp":14.05},{"series":"ERA 40","year":1969,"temp":14.18},{"series":"ERA 40","year":1970,"temp":13.98},{"series":"ERA 40","year":1971,"temp":14.10},{"series":"ERA 40","year":1972,"temp":14.02},{"series":"ERA 40","year":1973,"temp":14.20},{"series":"ERA 40","year":1974,"temp":13.92},{"series":"ERA 40","year":1975,"temp":14.08},{"series":"ERA 40","year":1976,"temp":13.95},
{"series":"ERA 40","year":1977,"temp":14.15},{"series":"ERA 40","year":1978,"temp":14.25},{"series":"ERA 40","year":1979,"temp":14.12},{"series":"ERA 40","year":1980,"temp":14.32},{"series":"ERA 40","year":1981,"temp":14.22},{"series":"ERA 40","year":1982,"temp":14.38},{"series":"ERA 40","year":1983,"temp":14.28},{"series":"ERA 40","year":1984,"temp":14.18},{"series":"ERA 40","year":1985,"temp":14.35},{"series":"ERA 40","year":1986,"temp":14.30},
{"series":"ERA 40","year":1987,"temp":14.42},{"series":"ERA 40","year":1988,"temp":14.25},{"series":"ERA 40","year":1989,"temp":14.40},{"series":"ERA 40","year":1990,"temp":14.32},{"series":"ERA 40","year":1991,"temp":14.45},{"series":"ERA 40","year":1992,"temp":14.28},{"series":"ERA 40","year":1993,"temp":14.35},{"series":"ERA 40","year":1994,"temp":14.48},{"series":"ERA 40","year":1995,"temp":14.38},{"series":"ERA 40","year":1996,"temp":14.50},
{"series":"ERA 40","year":1997,"temp":14.42},{"series":"ERA 40","year":1998,"temp":14.62},{"series":"ERA 40","year":1999,"temp":14.55},{"series":"ERA 40","year":2000,"temp":14.68},{"series":"ERA 40","year":2001,"temp":14.45},{"series":"ERA 40","year":2002,"temp":14.52}
],
"one":[{"k":1}]},
"layer":[
 {"data":{"name":"one"},"mark":{"type":"rect","fillOpacity":0,"stroke":"#4a4a4a","strokeWidth":1.2},
  "encoding":{
   "x":{"datum":1830.5,"type":"quantitative","title":"année","scale":{"domain":[1860,2110],"nice":false,"zero":false},
    "axis":{"values":[1860,1910,1960,2010,2060,2110],"format":"d","labelExpr":"datum.value == 2110 ? '' : datum.label","grid":false,"domainColor":"#d4d4d4","tickColor":"#c4c4c4","tickSize":7,"labelPadding":20,"labelFont":"DejaVu Sans Condensed, DejaVu Sans","labelFontWeight":"bold","labelFontSize":18,"labelColor":"#222","titleFont":"DejaVu Serif","titleFontSize":19,"titleFontWeight":"normal","titleColor":"#333","titlePadding":12}},
   "x2":{"datum":2116.8},
   "y":{"datum":18.246,"type":"quantitative","title":"température","scale":{"domain":[13,18],"nice":false,"zero":false},
    "axis":{"values":[13,14,15,16,17,18],"format":"d","grid":false,"domain":false,"tickColor":"#c4c4c4","tickSize":6,"labelPadding":8,"labelFont":"DejaVu Sans Condensed, DejaVu Sans","labelFontWeight":"bold","labelFontSize":16,"labelColor":"#222","titleFont":"DejaVu Serif","titleFontSize":18,"titleFontWeight":"normal","titleColor":"#333","titlePadding":14}},
   "y2":{"datum":11.9}}},
 {"data":{"name":"one"},"mark":{"type":"rect","fill":{"gradient":"linear","x1":0,"y1":0,"x2":0,"y2":1,"stops":[{"offset":0,"color":"#F8C396"},{"offset":0.3,"color":"#F4CDA8"},{"offset":0.5,"color":"#E6DAC4"},{"offset":0.62,"color":"#D3E2D4"},{"offset":0.75,"color":"#C6E4E2"},{"offset":1,"color":"#C0E3EF"}]}},
  "encoding":{"x":{"datum":1860,"type":"quantitative","title":"année","scale":{"domain":[1860,2110],"nice":false,"zero":false}},"x2":{"datum":2110},
   "y":{"datum":18,"type":"quantitative","title":"température","scale":{"domain":[13,18],"nice":false,"zero":false}},"y2":{"datum":13}}},
 {"data":{"name":"pts"},"transform":[{"filter":{"field":"series","oneOf":["A1B IMG","A1B","A1B 450"]}}],
  "mark":{"type":"point","filled":true,"opacity":1,"size":135,"color":"#000000","xOffset":2,"yOffset":2},
  "encoding":{
   "x":{"field":"year","type":"quantitative","title":"année","scale":{"domain":[1860,2110],"nice":false,"zero":false}},
   "y":{"field":"temp","type":"quantitative","title":"température","scale":{"domain":[13,18],"nice":false,"zero":false}},
   "shape":{"field":"series","type":"nominal","title":null,"scale":{"domain":["A1B IMG","A1B","A1B 450","HT1","contrôle","ERA 40"],"range":["triangle-up","triangle-up","triangle-up","circle","circle","square"]}}}},
 {"data":{"name":"pts"},"transform":[{"filter":{"field":"series","oneOf":["A1B IMG","A1B","A1B 450"]}}],
  "mark":{"type":"point","filled":true,"opacity":1,"size":135},
  "encoding":{
   "x":{"field":"year","type":"quantitative","title":"année","scale":{"domain":[1860,2110],"nice":false,"zero":false}},
   "y":{"field":"temp","type":"quantitative","title":"température","scale":{"domain":[13,18],"nice":false,"zero":false}},
   "color":{"field":"series","type":"nominal","title":null,"scale":{"domain":["A1B IMG","A1B","A1B 450","HT1","contrôle","ERA 40"],"range":["#8E2A10","#E8301C","#F6C41A","#2A9C68","#3A4CB2","#808080"]}},
   "shape":{"field":"series","type":"nominal","title":null,"scale":{"domain":["A1B IMG","A1B","A1B 450","HT1","contrôle","ERA 40"],"range":["triangle-up","triangle-up","triangle-up","circle","circle","square"]}}}},
 {"data":{"name":"pts"},"transform":[{"filter":{"field":"series","oneOf":["HT1","contrôle"]}}],
  "mark":{"type":"point","filled":true,"opacity":1,"size":115,"color":"#000000","xOffset":2,"yOffset":2},
  "encoding":{
   "x":{"field":"year","type":"quantitative","title":"année","scale":{"domain":[1860,2110],"nice":false,"zero":false}},
   "y":{"field":"temp","type":"quantitative","title":"température","scale":{"domain":[13,18],"nice":false,"zero":false}},
   "shape":{"field":"series","type":"nominal","title":null,"scale":{"domain":["A1B IMG","A1B","A1B 450","HT1","contrôle","ERA 40"],"range":["triangle-up","triangle-up","triangle-up","circle","circle","square"]}}}},
 {"data":{"name":"pts"},"transform":[{"filter":{"field":"series","oneOf":["HT1","contrôle"]}}],
  "mark":{"type":"point","filled":true,"opacity":1,"size":115},
  "encoding":{
   "x":{"field":"year","type":"quantitative","title":"année","scale":{"domain":[1860,2110],"nice":false,"zero":false}},
   "y":{"field":"temp","type":"quantitative","title":"température","scale":{"domain":[13,18],"nice":false,"zero":false}},
   "color":{"field":"series","type":"nominal","title":null,"scale":{"domain":["A1B IMG","A1B","A1B 450","HT1","contrôle","ERA 40"],"range":["#8E2A10","#E8301C","#F6C41A","#2A9C68","#3A4CB2","#808080"]}},
   "shape":{"field":"series","type":"nominal","title":null,"scale":{"domain":["A1B IMG","A1B","A1B 450","HT1","contrôle","ERA 40"],"range":["triangle-up","triangle-up","triangle-up","circle","circle","square"]}}}},
 {"data":{"name":"pts"},"transform":[{"filter":{"field":"series","equal":"ERA 40"}}],
  "mark":{"type":"point","filled":true,"opacity":1,"size":90,"color":"#000000","xOffset":2,"yOffset":2},
  "encoding":{
   "x":{"field":"year","type":"quantitative","title":"année","scale":{"domain":[1860,2110],"nice":false,"zero":false}},
   "y":{"field":"temp","type":"quantitative","title":"température","scale":{"domain":[13,18],"nice":false,"zero":false}},
   "shape":{"field":"series","type":"nominal","title":null,"scale":{"domain":["A1B IMG","A1B","A1B 450","HT1","contrôle","ERA 40"],"range":["triangle-up","triangle-up","triangle-up","circle","circle","square"]}}}},
 {"data":{"name":"pts"},"transform":[{"filter":{"field":"series","equal":"ERA 40"}}],
  "mark":{"type":"point","filled":true,"opacity":1,"size":90,"stroke":"#111111","strokeWidth":1.3},
  "encoding":{
   "x":{"field":"year","type":"quantitative","title":"année","scale":{"domain":[1860,2110],"nice":false,"zero":false}},
   "y":{"field":"temp","type":"quantitative","title":"température","scale":{"domain":[13,18],"nice":false,"zero":false}},
   "color":{"field":"series","type":"nominal","title":null,"scale":{"domain":["A1B IMG","A1B","A1B 450","HT1","contrôle","ERA 40"],"range":["#8E2A10","#E8301C","#F6C41A","#2A9C68","#3A4CB2","#808080"]}},
   "shape":{"field":"series","type":"nominal","title":null,"scale":{"domain":["A1B IMG","A1B","A1B 450","HT1","contrôle","ERA 40"],"range":["triangle-up","triangle-up","triangle-up","circle","circle","square"]}}}},
 {"data":{"name":"one"},"mark":{"type":"point","shape":"circle","filled":true,"opacity":1,"size":3700,"color":"#17406A"},
  "encoding":{"x":{"datum":2090.7,"type":"quantitative","title":"année","scale":{"domain":[1860,2110],"nice":false,"zero":false}},
   "y":{"datum":18.36,"type":"quantitative","title":"température","scale":{"domain":[13,18],"nice":false,"zero":false}}}},
 {"data":{"name":"one"},"mark":{"type":"text","text":"7","color":"white","font":"DejaVu Sans","fontSize":34,"fontStyle":"italic","align":"center","baseline":"alphabetic","dy":21},
  "encoding":{"x":{"datum":2090.7,"type":"quantitative","title":"année","scale":{"domain":[1860,2110],"nice":false,"zero":false}},
   "y":{"datum":18.36,"type":"quantitative","title":"température","scale":{"domain":[13,18],"nice":false,"zero":false}}}}
],
"config":{
 "view":{"stroke":null},
 "legend":{"orient":"none","legendX":90,"legendY":33,"fillColor":"white","strokeColor":"#111111","strokeWidth":1,"padding":8,"labelFont":"DejaVu Serif","labelFontSize":15,"labelColor":"#111","rowPadding":10,"symbolSize":60,"symbolOffset":8,"labelOffset":10}
}
}
